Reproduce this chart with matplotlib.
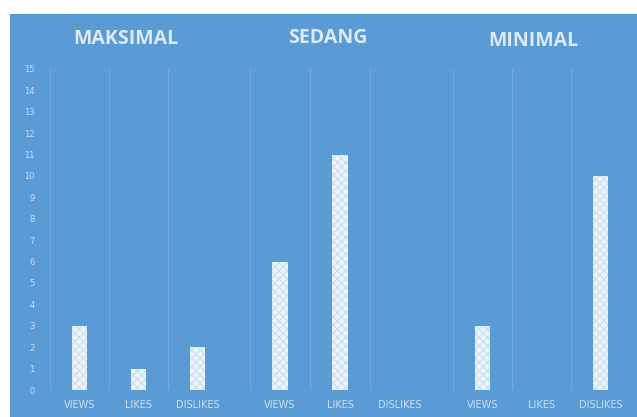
import matplotlib.pyplot as plt

panels = ["MAKSIMAL", "SEDANG", "MINIMAL"]
categories = ["VIEWS", "LIKES", "DISLIKES"]
maksimal = [3, 1, 2]
sedang = [6, 11, 0]
minimal = [3, 0, 10]
values = [maksimal, sedang, minimal]
yticks = list(range(0, 16))

bg = "#5b9bd5"
light = "#c9ddf2"

fig = plt.figure(figsize=(6.37, 4.17), dpi=100, facecolor="white")

# blue background panel
back = fig.add_axes([10 / 637, 0, 1 - 10 / 637, 1 - 14 / 417], zorder=0)
back.set_facecolor(bg)
back.set_xticks([])
back.set_yticks([])
for s in back.spines.values():
    s.set_visible(False)

# panel boxes in pixels (left, right)
xs = [(50, 227), (250, 430), (453, 630)]
title_x = [126, 328, 533]
title_y = [39, 38, 41]
bottom = 1 - 390 / 417
top = 1 - 69 / 417

for i, (name, vals) in enumerate(zip(panels, values)):
    l, r = xs[i]
    ax = fig.add_axes([l / 637, bottom, (r - l) / 637, top - bottom], zorder=1)
    ax.set_facecolor("none")
    pos = [0.5, 1.5, 2.5]
    ax.bar(pos, vals, width=0.27, color="#edf4fb", hatch="xxxx",
           edgecolor="#cfe0f1", linewidth=0, zorder=3)
    for xv in [0, 1, 2, 3]:
        ax.axvline(xv, color="#70aae0", lw=0.8, zorder=1)
    ax.set_xlim(0, 3)
    ax.set_ylim(0, 15)
    for s in ax.spines.values():
        s.set_visible(False)
    ax.set_xticks(pos)
    ax.set_xticklabels(categories, family="DejaVu Sans")
    ax.tick_params(axis="x", length=0, pad=7, labelsize=7, labelcolor=light)
    if i == 0:
        ax.set_yticks(yticks)
        ax.tick_params(axis="y", length=0, pad=11, labelsize=6, labelcolor=light)
    else:
        ax.set_yticks([])
    fig.text(title_x[i] / 637, 1 - title_y[i] / 417, name, ha="center", va="center",
             fontsize=14, fontweight="bold", color="#dde9f6", family="Open Sans",
             zorder=2)

fig.savefig("out.png", dpi=100, facecolor="white")
